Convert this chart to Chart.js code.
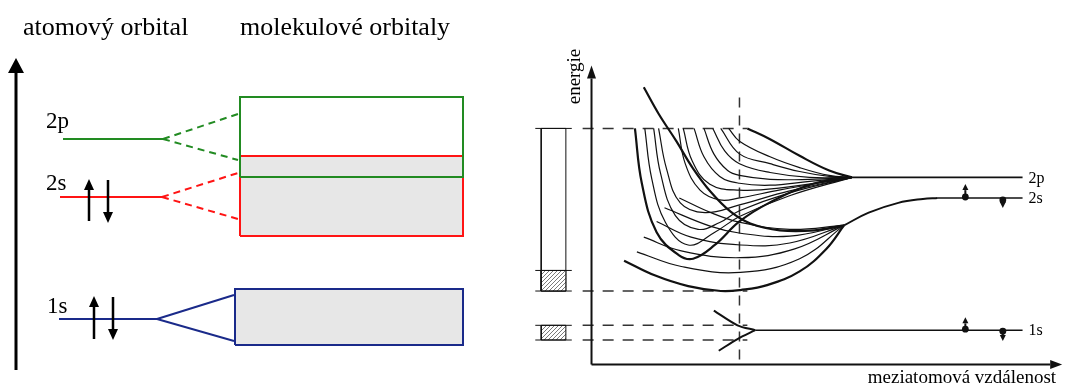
<!DOCTYPE html>
<html>
<head>
<meta charset="utf-8">
<script src="https://cdn.jsdelivr.net/npm/chart.js@4"></script>
<style>
    html, body { margin: 0; padding: 0; background: #fff; }
    #wrap { position: relative; width: 1067px; height: 392px; }
    #chartLeft { position: absolute; left: 0; top: 0; }
    #chartRight { position: absolute; left: 480px; top: 0; }
</style>
</head>
<body>
<div id="wrap">
    <canvas id="chartLeft" width="480" height="392"></canvas>
    <canvas id="chartRight" width="587" height="392"></canvas>
</div>
<script>
// ---------- left panel: atomic levels -> molecular bands ----------
const leftTitles = ["atomový orbital", "molekulové orbitaly"];
const leftTitleX = [23, 240];
const leftTitleE = 335;

const levelNames = ["2p", "2s", "1s"];
const levelEnergy = [231, 173, 51];
const levelStart = [63, 60, 59];
const levelEnd = [163, 162, 157];
const labelX = [46, 46, 47];
const labelE = [242, 180, 57];

const fanEdge = [238, 238, 234];
const fanUpper = [256, 197, 75];
const fanLower = [210, 151, 29];

const bandLeft = [240, 240, 235];
const bandRight = [463, 463, 463];
const bandTop = [273, 214, 81];
const bandBottom = [193, 134, 25];

const energyAxis = [0, 297];
const spinUpX = [89, 94];
const spinDownX = [108, 113];
const spinLow = [149, 31];
const spinHigh = [180, 63];
const spinDownEnd = [158, 41];

// ---------- right panel: energy vs. interatomic distance ----------
const energyTitle = "energie";
const distanceTitle = "meziatomová vzdálenost";
const rightLevels = ["2p", "2s", "1s"];
const rightLevelE = [191, 170, 35];
const rightLevelStart = [264, 351, 166];
const rightLevelEnd = 437;

const distAxisEnd = 465;
const energyAxisEnd = 292;
const equilibriumR = 150;
const equilibriumTop = 275;

const outerBandEdges = [241, 96, 75];
const innerBandEdges = [40, 25];
const barSides = [-51, -26];
const tickSpan = [-57, -20];
const dashSpan = [-9, 158];

const curves2p = [
    [[158, 241], [181, 230], [211, 213], [241, 198], [264, 191]],
    [[139, 241], [150, 228], [181, 212], [211, 201], [241, 193], [264, 191]],
    [[131, 241], [150, 215], [181, 205], [211, 197], [241, 192], [264, 191]],
    [[123, 241], [135, 218], [150, 205], [181, 196], [221, 191], [264, 191]],
    [[114, 241], [124, 215], [138, 198], [150, 193], [181, 189], [221, 189], [264, 191]],
    [[104, 241], [114, 212], [130, 192], [150, 185], [181, 183], [221, 187], [264, 191]],
    [[93, 241], [102, 208], [120, 184], [150, 178], [190, 180], [264, 191]],
    [[88, 241], [95, 205], [110, 178], [130, 168], [150, 170], [190, 178], [264, 191]],
    [[68, 241], [76, 200], [90, 165], [115, 155], [150, 163], [200, 177], [264, 191]],
    [[63, 241], [70, 195], [85, 152], [108, 138], [130, 145], [150, 157], [200, 175], [264, 191]],
    [[54, 241], [61, 190], [75, 145], [98, 122], [125, 135], [150, 151], [200, 172], [264, 191]],
    [[44, 241], [51, 185], [66, 135], [88, 112], [103, 108], [125, 122], [150, 146], [180, 165], [223, 184], [264, 191]]
];
const thick2p = [0, 11];

const curves2s = [
    [[53, 283], [68, 256], [86, 228], [103, 200], [121, 176], [141, 156], [161, 144], [191, 137], [226, 137], [256, 142]],
    [[89, 170], [121, 155], [151, 145], [201, 138], [256, 142]],
    [[74, 160], [121, 141], [151, 134], [201, 131], [256, 142]],
    [[66, 146], [101, 130], [151, 122], [201, 124], [256, 142]],
    [[53, 130], [91, 116], [151, 109], [206, 118], [256, 142]],
    [[46, 115], [91, 100], [151, 94], [211, 108], [256, 142]],
    [[33, 106], [64, 91], [98, 80], [131, 75], [151, 76], [178, 81], [211, 95], [238, 118], [256, 142]]
];
const thick2s = [0, 6];
const join2s = [[256, 142], [281, 155], [311, 165], [336, 169], [351, 170]];
const branch1sUpper = [[124, 55], [148, 40], [166, 35]];
const branch1sLower = [[129, 14], [148, 26], [166, 35]];

const spinR = [379, 417];
const spinDotE = [[171, 168], [36, 34]];
const spinHeadE = [[178, 166], [42, 30]];

// ---------- helpers ----------
const pts = list => list.map(([x, y]) => ({ x: x, y: y }));

function line(list, color, width, extra) {
    return Object.assign({
        data: pts(list),
        showLine: true,
        borderColor: color,
        borderWidth: width,
        pointRadius: 0,
        tension: 0,
        fill: false,
        clip: false
    }, extra || {});
}

function rect(x0, x1, y0, y1, color, width, bg) {
    return line([[x0, y0], [x1, y0], [x1, y1], [x0, y1], [x0, y0]], color, width,
        bg ? { fill: "shape", backgroundColor: bg } : {});
}

function hatchPattern() {
    const c = document.createElement("canvas");
    c.width = 4;
    c.height = 4;
    const g = c.getContext("2d");
    g.fillStyle = "#fff";
    g.fillRect(0, 0, 4, 4);
    g.strokeStyle = "#7a7a7a";
    g.lineWidth = 1;
    g.beginPath();
    g.moveTo(-1, 5); g.lineTo(5, -1);
    g.moveTo(-1, 1); g.lineTo(1, -1);
    g.moveTo(3, 5); g.lineTo(5, 3);
    g.stroke();
    return g.createPattern(c, "repeat");
}

// arrow heads drawn past the last point of a dataset, along its last segment
const arrowPlugin = {
    id: "arrowHeads",
    afterDatasetsDraw(chart) {
        const ctx = chart.ctx;
        chart.data.datasets.forEach((ds, i) => {
            if (!ds.arrow) return;
            const el = chart.getDatasetMeta(i).data;
            const a = el[el.length - 2];
            const b = el[el.length - 1];
            const ang = Math.atan2(b.y - a.y, b.x - a.x);
            const c = Math.cos(ang), s = Math.sin(ang);
            const L = ds.arrow.len, W = ds.arrow.width / 2;
            const tx = b.x + c * L, ty = b.y + s * L;
            ctx.save();
            ctx.fillStyle = ds.borderColor;
            ctx.beginPath();
            ctx.moveTo(tx, ty);
            ctx.lineTo(b.x - s * W, b.y + c * W);
            ctx.lineTo(b.x + s * W, b.y - c * W);
            ctx.closePath();
            ctx.fill();
            ctx.restore();
        });
    }
};

// texts placed in data coordinates
const textPlugin = {
    id: "texts",
    afterDraw(chart) {
        const ctx = chart.ctx;
        const xs = chart.scales.x, ys = chart.scales.y;
        (chart.options.plugins.texts.items || []).forEach(t => {
            ctx.save();
            ctx.font = t.size + 'px "Liberation Serif", "Times New Roman", serif';
            ctx.fillStyle = "#000";
            ctx.textAlign = t.align || "left";
            ctx.textBaseline = t.baseline || "alphabetic";
            ctx.translate(xs.getPixelForValue(t.x), ys.getPixelForValue(t.y));
            if (t.rotate) ctx.rotate(t.rotate);
            ctx.fillText(t.text, 0, 0);
            ctx.restore();
        });
    }
};

function baseOptions(xmin, xmax, ymin, ymax, items) {
    return {
        responsive: false,
        animation: false,
        events: [],
        layout: { padding: 0 },
        plugins: {
            legend: { display: false },
            tooltip: { enabled: false },
            texts: { items: items }
        },
        scales: {
            x: { type: "linear", min: xmin, max: xmax, display: false },
            y: { type: "linear", min: ymin, max: ymax, display: false }
        }
    };
}

function stackOrder(list) {
    list.forEach((d, i) => { d.order = list.length - i; });
    return list;
}

// ---------- left chart ----------
const levelColors = ["#228b22", "#ff1414", "#1a2a8a"];
const bandFill = "#e7e7e7";

const leftSets = [];
leftSets.push(rect(bandLeft[1], bandRight[1], bandBottom[1], bandTop[1], "rgba(0,0,0,0)", 0, bandFill));
leftSets.push(rect(bandLeft[2], bandRight[2], bandBottom[2], bandTop[2], "rgba(0,0,0,0)", 0, bandFill));
[1, 2, 0].forEach(k => {
    leftSets.push(rect(bandLeft[k], bandRight[k], bandBottom[k], bandTop[k], levelColors[k], 2));
});
levelNames.forEach((name, k) => {
    leftSets.push(line([[levelStart[k], levelEnergy[k]], [levelEnd[k], levelEnergy[k]]], levelColors[k], 2));
    const dash = k < 2 ? [7, 5] : [];
    leftSets.push(line([[levelEnd[k], levelEnergy[k]], [fanEdge[k], fanUpper[k]]], levelColors[k], 2, { borderDash: dash }));
    leftSets.push(line([[levelEnd[k], levelEnergy[k]], [fanEdge[k], fanLower[k]]], levelColors[k], 2, { borderDash: dash }));
});
leftSets.push(line([[16, energyAxis[0]], [16, energyAxis[1]]], "#000", 3, { arrow: { len: 15, width: 16 } }));
spinUpX.forEach((x, k) => {
    leftSets.push(line([[x, spinLow[k]], [x, spinHigh[k]]], "#000", 2.5, { arrow: { len: 11, width: 10 } }));
    leftSets.push(line([[spinDownX[k], spinHigh[k] + 10], [spinDownX[k], spinDownEnd[k]]], "#000", 2.5, { arrow: { len: 11, width: 10 } }));
});

const leftTexts = [];
leftTitles.forEach((t, k) => leftTexts.push({ text: t, x: leftTitleX[k], y: leftTitleE, size: 26 }));
levelNames.forEach((t, k) => leftTexts.push({ text: t, x: labelX[k], y: labelE[k], size: 23 }));

new Chart(document.getElementById("chartLeft"), {
    type: "scatter",
    data: { datasets: stackOrder(leftSets) },
    options: baseOptions(0, 480, -22, 370, leftTexts),
    plugins: [arrowPlugin, textPlugin]
});

// ---------- right chart ----------
const ink = "#111";
const hatch = hatchPattern();
const rightSets = [];

rightSets.push(rect(barSides[0], barSides[1], outerBandEdges[2], outerBandEdges[0], ink, 1, "#fff"));
rightSets.push(rect(barSides[0], barSides[1], outerBandEdges[2], outerBandEdges[1], ink, 1, hatch));
rightSets.push(rect(barSides[0], barSides[1], innerBandEdges[1], innerBandEdges[0], ink, 1, hatch));
outerBandEdges.concat(innerBandEdges).forEach(e => {
    rightSets.push(line([[tickSpan[0], e], [tickSpan[1], e]], ink, 1));
});
[outerBandEdges[0], outerBandEdges[2]].concat(innerBandEdges).forEach(e => {
    rightSets.push(line([[dashSpan[0], e], [dashSpan[1], e]], "#333", 1.5, { borderDash: [11, 9] }));
});
rightSets.push(line([[equilibriumR, 5], [equilibriumR, equilibriumTop]], "#333", 1.5, { borderDash: [10, 8] }));

curves2p.forEach((c, k) => {
    rightSets.push(line(c, ink, thick2p.includes(k) ? 2.2 : 1.2, { tension: 0.4 }));
});
curves2s.forEach((c, k) => {
    rightSets.push(line(c, ink, thick2s.includes(k) ? 2.2 : 1.2, { tension: 0.4 }));
});
rightSets.push(line(join2s, ink, 2, { tension: 0.4 }));
rightSets.push(line(branch1sUpper, ink, 2, { tension: 0.3 }));
rightSets.push(line(branch1sLower, ink, 2, { tension: 0.3 }));
rightLevels.forEach((n, k) => {
    rightSets.push(line([[rightLevelStart[k], rightLevelE[k]], [rightLevelEnd, rightLevelE[k]]], ink, 1.6));
});
spinR.forEach((r, j) => {
    [0, 1].forEach(lv => {
        rightSets.push(line([[r, spinDotE[lv][j]], [r, spinHeadE[lv][j]]], ink, 2, {
            arrow: { len: 6, width: 6 },
            pointRadius: [3.4, 0],
            pointBackgroundColor: ink,
            pointBorderWidth: 0
        }));
    });
});
rightSets.push(line([[0, 0], [0, energyAxisEnd]], ink, 2, { arrow: { len: 13, width: 9 } }));
rightSets.push(line([[0, 0], [distAxisEnd, 0]], ink, 2, { arrow: { len: 12, width: 9 } }));

const rightTexts = [
    { text: energyTitle, x: -17, y: 294, size: 19, align: "center", baseline: "middle", rotate: -Math.PI / 2 },
    { text: distanceTitle, x: 471, y: -19, size: 19, align: "right" }
];
rightLevels.forEach((t, k) => rightTexts.push({ text: t, x: 443, y: rightLevelE[k] - 1, size: 16, baseline: "middle" }));

new Chart(document.getElementById("chartRight"), {
    type: "scatter",
    data: { datasets: stackOrder(rightSets) },
    options: baseOptions(-109, 478, -24, 368, rightTexts),
    plugins: [arrowPlugin, textPlugin]
});
</script>
</body>
</html>
